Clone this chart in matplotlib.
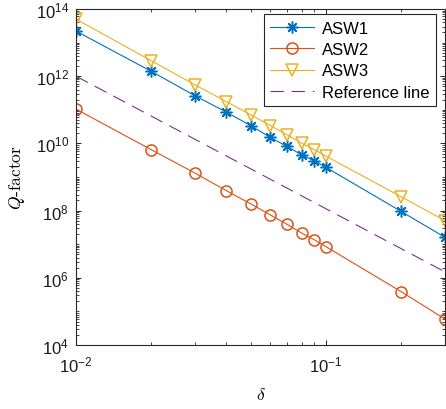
import matplotlib
matplotlib.use("Agg")
import matplotlib.pyplot as plt
from matplotlib.ticker import LogLocator, NullFormatter

# values
delta = [0.01, 0.02, 0.03, 0.04, 0.05, 0.06, 0.07, 0.08, 0.09, 0.1, 0.2, 0.3]
asw1 = [2.2e13, 1.4e12, 2.6e11, 8.5e10, 3.4e10, 1.5e10, 8.1e9, 4.6e9, 3.0e9, 1.95e9, 9.5e7, 1.6e7]
asw2 = [1.05e11, 6.5e9, 1.3e9, 3.9e8, 1.6e8, 7.4e7, 3.9e7, 2.15e7, 1.35e7, 8.5e6, 3.9e5, 5.9e4]
asw3 = [5.0e13, 2.9e12, 5.5e11, 1.75e11, 7.1e10, 3.4e10, 1.8e10, 1.02e10, 6.5e9, 4.2e9, 2.6e8, 5.0e7]
ref_x = [0.01, 0.3]
ref_y = [1.0e12, 1.5e6]

plt.rcParams["font.family"] = "Liberation Sans"
plt.rcParams["mathtext.fontset"] = "custom"
plt.rcParams["mathtext.rm"] = "Liberation Sans"
plt.rcParams["axes.unicode_minus"] = False

fig = plt.figure(figsize=(4.46, 4.10), dpi=100)
ax = fig.add_axes([76 / 446, 64 / 410, 369 / 446, 336 / 410])

c1, c2, c3, c4 = "#0072BD", "#D95319", "#EDB120", "#7E2F8E"
lw = 0.8
ax.plot(delta, asw1, color=c1, lw=lw, marker=(8, 2, 0), ms=8.5, mew=1.1, label="ASW1")
ax.plot(delta, asw2, color=c2, lw=lw, marker="o", ms=8, mfc="none", mew=1.1, label="ASW2")
ax.plot(delta, asw3, color=c3, lw=lw, marker="v", ms=9, mfc="none", mew=1.1, label="ASW3")
ax.plot(ref_x, ref_y, color=c4, lw=lw, dashes=(12, 7), label="Reference line")

ax.set_xscale("log")
ax.set_yscale("log")
ax.set_xlim(0.01, 0.3)
ax.set_ylim(1e4, 1e14)
ax.set_yticks([1e4, 1e6, 1e8, 1e10, 1e12, 1e14])
ax.yaxis.set_minor_locator(LogLocator(base=10, subs=range(1, 10), numticks=100))
ax.yaxis.set_minor_formatter(NullFormatter())
ax.xaxis.set_minor_formatter(NullFormatter())

gray = "#262626"
for s in ax.spines.values():
    s.set_color(gray)
    s.set_linewidth(0.8)
ax.tick_params(which="both", direction="in", top=True, right=True, color=gray,
               labelcolor="#1a1a1a", labelsize=12)
ax.tick_params(which="major", length=3.5, width=0.7)
ax.tick_params(which="minor", length=2.2, width=0.6)
ax.tick_params(axis="x", which="major", pad=7)
ax.tick_params(axis="y", which="major", pad=5)

ax.set_xlabel(r"$\delta$", fontsize=12.5, math_fontfamily="cm", labelpad=8)
ax.set_ylabel(r"$Q$-factor", fontsize=12.5, fontfamily="cmr10", math_fontfamily="cm", labelpad=6)

leg = ax.legend(loc="upper right", bbox_to_anchor=(0.976, 0.985), borderaxespad=0,
                fontsize=12, handlelength=2.6, labelspacing=0.38, borderpad=0.4,
                handletextpad=0.5, fancybox=False, framealpha=1, edgecolor=gray)
leg.get_frame().set_linewidth(0.8)

fig.savefig("out.png", dpi=100)
